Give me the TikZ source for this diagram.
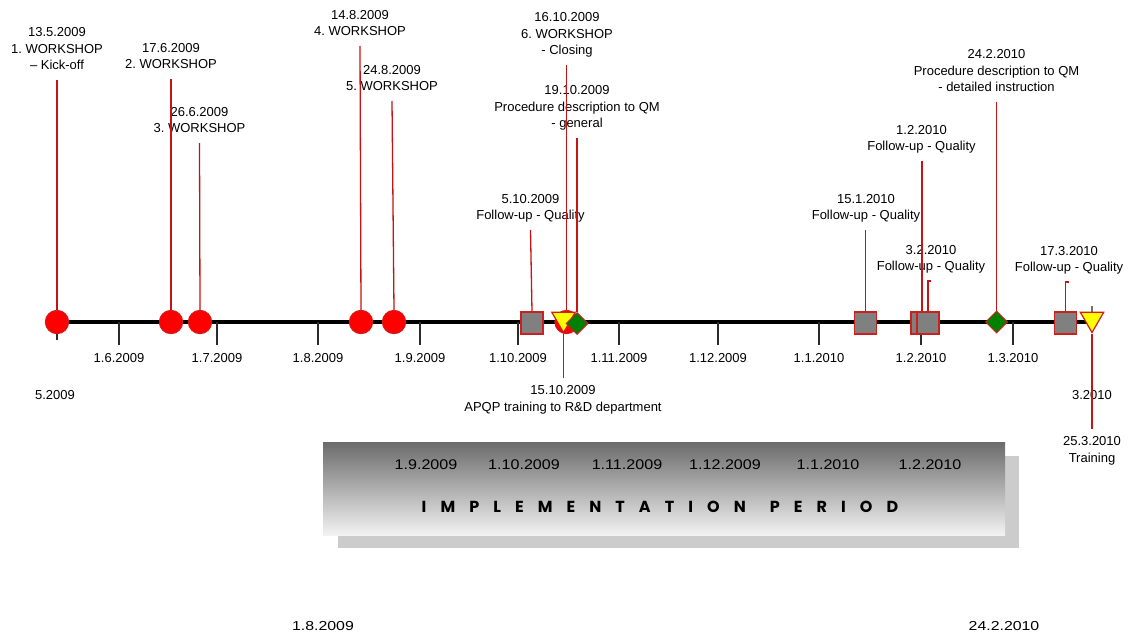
\documentclass[tikz,border=0pt]{standalone}
\usepackage{fontspec}
\setmainfont{Liberation Sans}
\newfontfamily\decofont{Poppins}
\usetikzlibrary{positioning,shapes.geometric}
\definecolor{tlRed}{HTML}{FF0000}
\definecolor{tlEdge}{HTML}{CC1F1F}
\definecolor{tlStem}{HTML}{C41414}
\definecolor{tlGray}{HTML}{808080}
\definecolor{tlGreen}{HTML}{008000}
\definecolor{tlYellow}{HTML}{FFFF00}
\definecolor{tlShadow}{HTML}{CCCCCC}
\definecolor{tlTick}{HTML}{2B2B2B}

\begin{document}
\frenchspacing
\begin{tikzpicture}[x=1pt,y=-1pt,line join=miter]
\useasboundingbox[fill=white] (0,0) rectangle (1135,637);
\tikzset{axis/.style={draw=black,line width=3.2pt},tick/.style={draw=tlTick,line width=1.2pt},stem/.style={draw=tlStem,line width=1.3pt},
  datelbl/.style={inner sep=0pt,font=\fontsize{13}{16.5}\selectfont},
  wsdot/.style={circle,fill=tlRed,draw=tlEdge,line width=0.8pt,minimum size=23.5pt,inner sep=0pt},
  fupbox/.style={rectangle,fill=tlGray,draw=tlEdge,line width=1.2pt,minimum size=22pt,inner sep=0pt},
  traintri/.style={regular polygon,regular polygon sides=3,shape border rotate=180,fill=tlYellow,draw=tlEdge,line width=1.2pt,minimum size=27pt,inner sep=0pt},
  qmdiamond/.style={diamond,fill=tlGreen,draw=tlEdge,line width=1pt,minimum size=22pt,inner sep=0pt},
  evup/.style={anchor=south,align=center,inner xsep=0pt,inner ysep=5pt,font=\fontsize{13}{16.5}\selectfont},
  evdown/.style={evup,anchor=north},
  widedate/.style={inner sep=0pt,font=\fontsize{14}{16}\selectfont}}
% banner
\fill[tlShadow] (338,456) rectangle (1019,548);
\shade[top color=black!58,bottom color=black!5] (323,442) rectangle (1005,535);
\node[widedate] (b1) at (426,465) {\scalebox{1.15}[1]{1.9.2009}};
\node[widedate] (b2) at (524,465) {\scalebox{1.15}[1]{1.10.2009}};
\node[widedate] (b3) at (627,465) {\scalebox{1.15}[1]{1.11.2009}};
\node[widedate] (b4) at (725,465) {\scalebox{1.15}[1]{1.12.2009}};
\node[widedate] (b5) at (828,465) {\scalebox{1.15}[1]{1.1.2010}};
\node[widedate] (b6) at (930,465) {\scalebox{1.15}[1]{1.2.2010}};
\node[inner sep=0pt,font=\decofont\bfseries\fontsize{16}{18}\selectfont\addfontfeature{LetterSpace=88}] (ip) at (660,507) {IMPLEMENTATION\hspace*{24pt}PERIOD};
\node[widedate,font=\fontsize{13}{16}\selectfont] (d1) at (323,626) {\scalebox{1.22}[1]{1.8.2009}};
\node[widedate,font=\fontsize{13}{16}\selectfont] (d2) at (1004,626) {\scalebox{1.22}[1]{24.2.2010}};
% axis and months
\coordinate (axL) at (57,322);
\coordinate (axR) at (1092,322);
\draw[axis] (axL) -- (axR);
\foreach \x/\lab in {119/1.6.2009,217/1.7.2009,318/1.8.2009,420/1.9.2009,518/1.10.2009,619/1.11.2009,718/1.12.2009,819/1.1.2010,921/1.2.2010,1013/1.3.2010}
  {\draw[tick] (\x,322) -- (\x,345); \node[datelbl] (m\x) at (\x,358) {\lab};}
\draw[tick] (axL) -- ++(0,18);
\draw[tick,draw=black!55] (axR) -- ++(0,-16);
\node[datelbl] (m0) at (55,395) {5.2009};
\node[datelbl] (mE) at (1092,395) {3.2010};
% event labels
\node[evup] (e1) at (57,80) {\strut 13.5.2009\\1. WORKSHOP\\-- Kick-off\strut};
\node[evup] (e2) at (171,79) {\strut 17.6.2009\\2. WORKSHOP\strut};
\node[evup] (e3) at (199.5,143) {\strut 26.6.2009\\3. WORKSHOP\strut};
\node[evup] (e4) at (360,46) {\strut 14.8.2009\\4. WORKSHOP\strut};
\node[evup] (e5) at (392,101) {\strut 24.8.2009\\5. WORKSHOP\strut};
\node[evup] (e6) at (530.5,230) {\strut 5.10.2009\\Follow-up - Quality\strut};
\node[evup] (e7) at (567,65) {\strut 16.10.2009\\6. WORKSHOP\\- Closing\strut};
\node[evup] (e8) at (577,138) {\strut 19.10.2009\\Procedure description to QM\\- general\strut};
\node[evdown] (e9) at (563,378) {\strut 15.10.2009\\APQP training to R\&D department\strut};
\node[evup] (e10) at (866,230) {\strut 15.1.2010\\Follow-up - Quality\strut};
\node[evup] (e11) at (921.5,161) {\strut 1.2.2010\\Follow-up - Quality\strut};
\node[evup] (e12) at (931,281) {\strut 3.2.2010\\Follow-up - Quality\strut};
\node[evup] (e13) at (996.5,102) {\strut 24.2.2010\\Procedure description to QM\\- detailed instruction\strut};
\node[evup] (e14) at (1069,282) {\strut 17.3.2010\\Follow-up - Quality\strut};
\node[evdown] (e15) at (1092,429) {\strut 25.3.2010\\Training\strut};
% markers
\node[wsdot] (w1) at (57,322) {};
\node[wsdot] (w2) at (171,322) {};
\node[wsdot] (w3) at (200,322) {};
\node[wsdot] (w4) at (361,322) {};
\node[wsdot] (w5) at (394,322) {};
\node[wsdot] (w6) at (566.5,322) {};
\node[fupbox] (f1) at (532,323) {};
\node[fupbox] (f2) at (865.5,323) {};
\node[fupbox] (f3) at (922,323) {};
\node[fupbox] (f4) at (928,323) {};
\node[fupbox] (f5) at (1065.5,323) {};
\node[traintri] (t1) at (563.5,319) {};
\node[traintri] (t2) at (1092,319) {};
\node[qmdiamond] (q1) at (577,323.5) {};
\node[qmdiamond] (q2) at (996.5,322) {};
% stems
\draw[stem] (w1.north) -- (w1.north |- e1.south);
\draw[stem] (w2.north) -- (w2.north |- e2.south);
\draw[stem] (w3.north) -- (e3.south);
\draw[stem] (w4.north) -- (e4.south);
\draw[stem] (w5.north) -- (e5.south);
\draw[stem] (f1.north) -- (e6.south);
\draw[stem] (w6.north) -- (w6.north |- e7.south);
\draw[stem] (q1.north) -- (q1.north |- e8.south);
\draw[stem] (t1.corner 1) -- (t1.corner 1 |- e9.north);
\draw[stem] (f2.north) -- (f2.north |- e10.south);
\draw[stem] (f3.north) -- (f3.north |- e11.south);
\draw[stem] (f4.north) -- (f4.north |- e12.south) -- (e12.south);
\draw[stem] (q2.north) -- (q2.north |- e13.south);
\draw[stem] (f5.north) -- (f5.north |- e14.south) -- (e14.south);
\draw[stem] (t2.corner 1) -- (t2.corner 1 |- e15.north);
\end{tikzpicture}
\end{document}
